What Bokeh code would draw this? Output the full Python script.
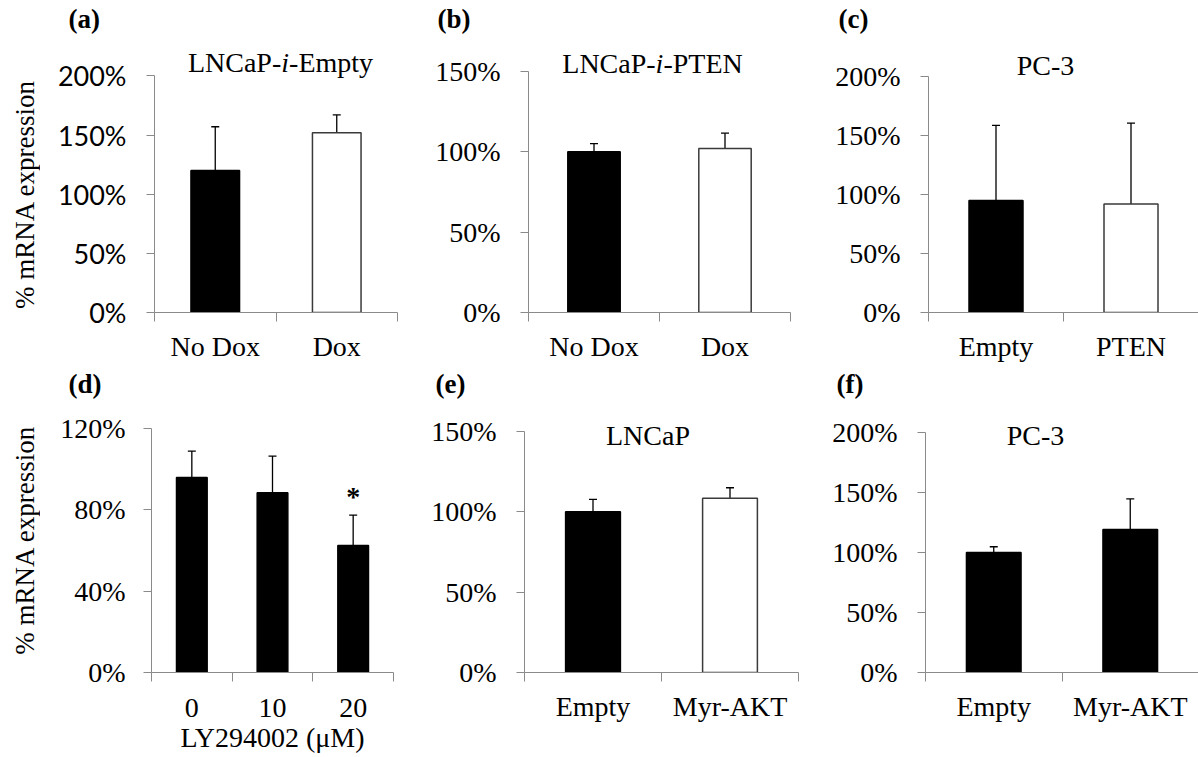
from math import pi
from bokeh.plotting import figure
from bokeh.models import (Range1d, FixedTicker, PrintfTickFormatter, Whisker, TeeHead,
                          ColumnDataSource, Label)
from bokeh.layouts import row, column
from bokeh.core.properties import value
from bokeh.embed import file_html
from bokeh.resources import INLINE

SERIF = "Liberation Serif"
AXIS_GRAY = "#8a8a8a"

# ---------------- data ----------------
a_cats = ["No Dox", "Dox"]
a_vals = [120, 152]
a_err = [37, 15]

b_cats = ["No Dox", "Dox"]
b_vals = [100, 102]
b_err = [5, 9.5]

c_cats = ["Empty", "PTEN"]
c_vals = [95, 92]
c_err = [63.5, 68.5]

d_cats = ["0", "10", "20"]
d_vals = [96, 88.5, 62.5]
d_err = [13, 18, 15]
d_sig = ["", "", "*"]

e_cats = ["Empty", "Myr-AKT"]
e_vals = [100, 108.5]
e_err = [7.7, 6.5]

f_cats = ["Empty", "Myr-AKT"]
f_vals = [100, 119]
f_err = [4.7, 25.5]

y_label = "% mRNA expression"
d_xlabel = "LY294002 (\u03bcM)"

# approximate Times advance widths (em) for splitting titles with an italic part
TW = {'L': .611, 'N': .722, 'C': .667, 'a': .444, 'P': .556, '-': .333, 'E': .611,
      'm': .778, 'p': .5, 't': .278, 'y': .5, 'T': .611, 'i': .278, '3': .5}
TITLE_PX = 28


def tw(s):
    return sum(TW.get(ch, .5) for ch in s) * TITLE_PX


def make_panel(cats, vals, errs, ymax, ystep, fills, W, H, left, right, top, bottom,
               tick_top, bar_w, letter, letter_dx, title_parts, title_dx, title_dy,
               tick_font=SERIF, tick_size="28px", tick_standoff=20, sig=None, xlab=None,
               label_standoff=9):
    n = len(cats)
    xs = [i + 0.5 for i in range(n)]
    frame_h = H - top - bottom
    # extend the range above the top tick so the panel heading sits inside the frame
    y_end = ymax * frame_h / (frame_h - (tick_top - top))
    lines = ["black" if f == "black" else "#3a3a3a" for f in fills]
    src = ColumnDataSource(dict(x=xs, v=vals, up=[v + e for v, e in zip(vals, errs)],
                                fill=fills, line=lines))
    p = figure(width=W, height=H, x_range=Range1d(0, n), y_range=Range1d(0, y_end),
               output_backend="svg", toolbar_location=None,
               min_border_left=left, min_border_right=right,
               min_border_top=top, min_border_bottom=bottom)
    p.outline_line_color = None
    p.xgrid.visible = False
    p.ygrid.visible = False
    p.background_fill_color = "white"
    p.border_fill_color = "white"

    p.vbar(x="x", top="v", bottom=0, width=bar_w, fill_color="fill", line_color="line",
           line_width=1.5, source=src)
    wh = Whisker(source=src, base="x", lower="v", upper="up", dimension="height",
                 line_color="black", line_width=1.3,
                 upper_head=TeeHead(size=8, line_color="black", line_width=1.3),
                 lower_head=None)
    p.add_layout(wh)

    # x axis: labels at category centres, ticks at category boundaries
    xa = p.xaxis[0]
    xa.ticker = FixedTicker(ticks=xs, minor_ticks=list(range(n + 1)))
    xa.major_label_overrides = {x: c for x, c in zip(xs, cats)}
    xa.major_tick_out = 0
    xa.major_tick_in = 0
    xa.minor_tick_out = 9
    xa.minor_tick_in = 0
    xa.minor_tick_line_color = AXIS_GRAY
    xa.axis_line_color = AXIS_GRAY
    xa.major_label_text_font = SERIF
    xa.major_label_text_font_size = "28px"
    xa.major_label_text_color = "black"
    xa.major_label_standoff = label_standoff
    if xlab:
        xa.axis_label = xlab
        xa.axis_label_text_font = SERIF
        xa.axis_label_text_font_size = "28px"
        xa.axis_label_text_font_style = "normal"
        xa.axis_label_text_color = "black"
        xa.axis_label_standoff = 2

    ya = p.yaxis[0]
    ya.bounds = (0, ymax)
    ya.ticker = FixedTicker(ticks=list(range(0, ymax + 1, ystep)), minor_ticks=[])
    ya.formatter = PrintfTickFormatter(format="%d%%")
    ya.major_tick_out = 8
    ya.major_tick_in = 0
    ya.minor_tick_out = 0
    ya.minor_tick_in = 0
    ya.major_tick_line_color = AXIS_GRAY
    ya.axis_line_color = AXIS_GRAY
    ya.major_label_text_font = tick_font
    ya.major_label_text_font_size = tick_size
    ya.major_label_text_color = "black"
    ya.major_label_standoff = tick_standoff

    # panel letter as the figure title
    p.title.text = letter
    p.title.align = "left"
    p.title.offset = letter_dx
    p.title.standoff = 0
    p.title.text_font = SERIF
    p.title.text_font_size = "27px"
    p.title.text_font_style = "bold"
    p.title.text_color = "black"

    # panel heading (possibly with an italic part), inside the frame
    total = sum(tw(t) for t, _ in title_parts)
    pos = title_dx - total / 2
    for t, style in title_parts:
        p.add_layout(Label(x=n / 2, y=ymax, x_offset=pos, y_offset=title_dy, text=t,
                           text_font=SERIF, text_font_size=f"{TITLE_PX}px",
                           text_font_style=style, text_align="left",
                           text_baseline="middle", text_color="black"))
        pos += tw(t)
    if sig:
        ssrc = ColumnDataSource(dict(x=xs, y=src.data["up"], t=sig))
        p.text(x="x", y="y", text="t", source=ssrc, text_font=value(SERIF),
               text_font_size="28px", text_font_style="bold", text_align="center",
               text_baseline="middle", y_offset=-19, text_color="black")
    return p


def ylabel_strip(H, top, bottom, text, cx, cy):
    # narrow strip (frame aligned with its row) holding the rotated y-axis title;
    # data units are pixels measured up from the frame bottom
    fh = H - top - bottom
    s = figure(width=40, height=H, x_range=Range1d(0, 40), y_range=Range1d(0, fh),
               x_axis_type=None, y_axis_type=None, output_backend="svg",
               toolbar_location=None, min_border_left=0, min_border_right=0,
               min_border_top=top, min_border_bottom=bottom)
    s.outline_line_color = None
    s.background_fill_color = "white"
    s.border_fill_color = "white"
    s.add_layout(Label(x=cx, y=(H - bottom) - cy, text=text, angle=pi / 2, text_font=SERIF,
                       text_font_size="27px", text_align="center", text_baseline="middle",
                       text_color="black"))
    return s


H1, H2 = 365, 392
sa = ylabel_strip(H1, 33, 51, y_label, 24, 195)
pa = make_panel(a_cats, a_vals, a_err, 200, 50, ["black", "white"],
                370, H1, 114, 13, 33, 51, 75.7, 0.4,
                "(a)", -86, [("LNCaP-", "normal"), ("i", "italic"), ("-Empty", "normal")],
                4.5, 13, tick_font="Lato", tick_size="27px")
pb = make_panel(b_cats, b_vals, b_err, 150, 50, ["black", "white"],
                390, H1, 118, 10, 33, 51, 71, 0.4,
                "(b)", -91, [("LNCaP-", "normal"), ("i", "italic"), ("-PTEN", "normal")],
                -7, 8)
pc = make_panel(c_cats, c_vals, c_err, 200, 50, ["black", "white"],
                398, H1, 128, 0, 33, 53, 76, 0.4,
                "(c)", -90, [("PC-3", "normal")], -18, 11)

sd = ylabel_strip(H2, 33, 84, y_label, 24, 540 - H1)
pd = make_panel(d_cats, d_vals, d_err, 120, 40, ["black", "black", "black"],
                370, H2, 111, 17, 33, 84, 428.3 - H1, 0.38,
                "(d)", -83, [], 0, 0, tick_standoff=18, sig=d_sig, xlab=d_xlabel,
                label_standoff=17)
pe = make_panel(e_cats, e_vals, e_err, 150, 50, ["black", "white"],
                390, H2, 114, 2, 33, 85, 431 - H1, 0.4,
                "(e)", -89, [("LNCaP", "normal")], -13.5, -4)
pf = make_panel(f_cats, f_vals, f_err, 200, 50, ["black", "black"],
                398, H2, 125, 0, 33, 81, 432.3 - H1, 0.4,
                "(f)", -89, [("PC-3", "normal")], -26.5, -3)

layout = column(row(sa, pa, pb, pc), row(sd, pd, pe, pf))
open("out.html", "w").write(file_html(layout, INLINE))
